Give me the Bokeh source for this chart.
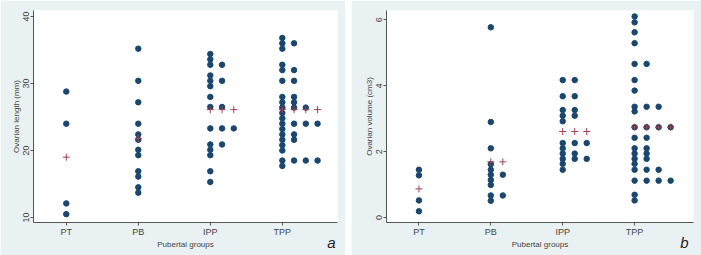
from collections import Counter
from bokeh.plotting import figure
from bokeh.layouts import row
from bokeh.models import Range1d, FixedTicker, Label
from bokeh.embed import file_html
from bokeh.resources import INLINE

groups = ["PT", "PB", "IPP", "TPP"]

# Panel a: ovarian length (mm)
length_PT = [28.8, 24.0, 12.1, 10.5]
length_PB = [35.2, 30.4, 27.2, 24.0, 22.4, 21.6, 20.1, 19.3, 16.9, 16.1, 14.5, 13.7]
length_IPP = [34.4, 33.6, 32.8, 32.8, 31.2, 30.4, 30.4, 29.6, 28.0, 26.5, 26.5,
              23.3, 23.3, 23.3, 20.9, 20.9, 20.1, 19.3, 16.9, 15.3]
length_TPP = [36.8, 36.0, 36.0, 35.2, 32.8, 32.0, 32.0, 30.4, 30.4, 28.0, 28.0,
              27.2, 27.2, 26.4, 26.4, 26.4, 25.6, 24.8, 24.0, 24.0, 24.0, 24.0,
              23.2, 22.4, 22.4, 21.6, 21.6, 20.8, 20.0, 18.5, 18.5, 18.5, 18.5, 17.7]
length_means = [19.0, 21.8, 26.1, 26.1]
length_ticks = [10, 20, 30, 40]

# Panel b: ovarian volume (cm3)
volume_PT = [1.45, 1.28, 0.52, 0.19]
volume_PB = [5.77, 2.90, 2.10, 1.62, 1.45, 1.30, 1.30, 1.14, 0.99, 0.67, 0.67, 0.51]
volume_IPP = [4.17, 4.17, 3.68, 3.68, 3.26, 3.26, 3.09, 3.09, 2.92, 2.26, 2.26,
              2.26, 2.10, 1.94, 1.94, 1.78, 1.78, 1.78, 1.63, 1.45]
volume_TPP = [6.10, 5.92, 5.62, 5.29, 4.66, 4.66, 4.17, 3.85, 3.36, 3.36, 3.36,
              3.22, 2.74, 2.74, 2.74, 2.74, 2.42, 2.42, 2.10, 2.10, 1.94, 1.94,
              1.78, 1.78, 1.63, 1.45, 1.45, 1.45, 1.12, 1.12, 1.12, 1.12, 0.69, 0.52]
volume_means = [0.87, 1.69, 2.61, 2.74]
volume_ticks = [0, 2, 4, 6]

NAVY = "#1a476f"
MAROON = "#a04050"
BG = "#eaf1f3"
AXC = "#555555"
TXT = "#444444"
FONT = "Liberation Sans"


def panel(series, means, ticks, ylabel, letter, width, xr, yr, step,
          bl, br, letter_xy):
    p = figure(width=width, height=255, output_backend="svg",
               toolbar_location=None, x_range=Range1d(*xr), y_range=Range1d(*yr),
               min_border_left=bl, min_border_right=br, min_border_top=10,
               min_border_bottom=33)
    p.background_fill_color = "white"
    p.border_fill_color = BG
    p.outline_line_color = None
    p.xgrid.visible = False
    p.ygrid.visible = False

    xs, ys, px, py = [], [], [], []
    for gi, vals in enumerate(series):
        cnt = Counter()
        for v in vals:
            xs.append(gi + 1 + cnt[v] * step)
            ys.append(v)
            cnt[v] += 1
        for k in range(max(cnt.values())):
            px.append(gi + 1 + k * step)
            py.append(means[gi])

    p.scatter(xs, ys, size=5.5, fill_color=NAVY, line_color=NAVY)
    p.scatter(px, py, marker="cross", size=7, line_color=MAROON, line_width=1)

    p.xaxis.ticker = FixedTicker(ticks=[1, 2, 3, 4])
    p.xaxis.major_label_overrides = {i + 1: g for i, g in enumerate(groups)}
    p.yaxis.ticker = FixedTicker(ticks=ticks)
    p.yaxis.major_label_orientation = "vertical"
    for ax in (p.xaxis[0], p.yaxis[0]):
        ax.axis_line_color = AXC
        ax.major_tick_line_color = AXC
        ax.major_tick_in = 0
        ax.major_tick_out = 3
        ax.minor_tick_line_color = None
        ax.major_label_text_font = FONT
        ax.major_label_text_color = TXT
        ax.major_label_text_font_size = "9px"
        ax.major_label_standoff = 1
        ax.axis_label_text_font = FONT
        ax.axis_label_text_color = TXT
        ax.axis_label_text_font_style = "normal"
        ax.axis_label_text_font_size = "8px"
        ax.axis_label_standoff = 0
    p.xaxis.axis_label = "Pubertal groups"
    p.yaxis.axis_label = ylabel

    # letter placed in the right-side panel so it is not clipped to the frame
    p.add_layout(Label(x=letter_xy[0], y=letter_xy[1], text=letter,
                       text_font=FONT, text_font_style="italic",
                       text_font_size="15px", text_color="#222222",
                       text_align="center", text_baseline="middle"),
                 "right")
    return p


pa = panel([length_PT, length_PB, length_IPP, length_TPP], length_means,
           length_ticks, "Ovarian length (mm)", "a", 345,
           (0.545, 4.766), (9.25, 40.9), 0.163, 33, 0, (4.68, 6.27))
pb = panel([volume_PT, volume_PB, volume_IPP, volume_TPP], volume_means,
           volume_ticks, "Ovarian volume (cm3)", "b", 350,
           (0.549, 4.819), (-0.15, 6.28), 0.167, 35, 0, (4.693, -0.76))

layout = row(pa, pb, spacing=6)
open("out.html", "w").write(file_html(layout, INLINE))
